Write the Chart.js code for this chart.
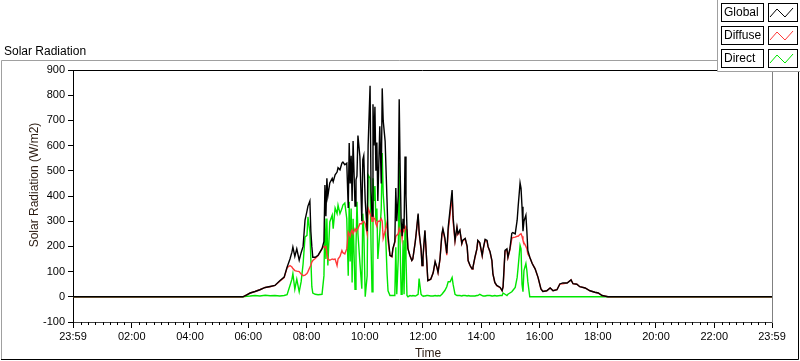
<!DOCTYPE html>
<html>
<head>
<meta charset="utf-8">
<script src="https://cdn.jsdelivr.net/npm/chart.js@4"></script>
<style>
  html, body { margin: 0; padding: 0; background: #fff; }
</style>
</head>
<body>
<canvas id="chart" width="800" height="361"></canvas>
<script>
// minutes from midnight; -1 and 1439 are the two 23:59 ends of the day
const minuteOfDay = [
  -1, 349, 357, 364, 374, 384, 395, 405, 415, 425, 434, 440, 446, 450, 452, 456, 460, 465, 469, 473,
  477, 481, 483, 487, 489, 491, 493, 498, 504, 512, 516, 518, 520, 522, 524, 528, 533, 535, 539, 543,
  545, 549, 553, 555, 559, 563, 566, 568, 570, 572, 574, 576, 580, 582, 584, 586, 590, 594, 596, 598,
  601, 605, 607, 611, 613, 615, 617, 619, 621, 623, 625, 627, 631, 634, 636, 638, 642, 646, 648, 652,
  656, 658, 662, 664, 666, 669, 671, 673, 675, 677, 679, 681, 683, 685, 687, 689, 693, 697, 699, 704,
  706, 710, 712, 716, 718, 720, 724, 728,
  730, 736, 741, 745, 749, 751, 755, 759, 761, 765, 769, 772, 776, 780, 782, 786, 790, 792, 796, 800,
  802, 807, 811, 813, 817, 821, 823, 827, 831, 833, 837, 842, 844, 848, 852, 854, 858, 862, 864, 868,
  872, 879, 883, 885, 889, 893, 895, 899, 903,
  905, 910, 914, 916, 920, 922, 924, 926, 928, 932, 934, 936, 940, 945, 951, 957, 963, 967, 975, 982,
  988, 996, 1002, 1008, 1017, 1025, 1029, 1037, 1043, 1054, 1064, 1074, 1081, 1089, 1101, 1439
];

const globalRad = [
  0, 0, 8, 15, 21, 28, 37, 41, 45, 64, 78, 117, 150, 177, 197, 160, 190, 145, 175, 200,
  304, 340, 360, 380, 260, 200, 157, 157, 165, 191, 220, 444, 320, 470, 400, 452, 470, 457, 484, 495,
  512, 504, 531, 535, 524, 530, 352, 610, 450, 560, 380, 618, 360, 464, 480, 640, 557, 300, 544, 560,
  380, 260, 600, 837, 420, 320, 764, 600, 754, 500, 612, 380, 677, 450, 827, 700, 618, 377, 244, 164,
  160, 191, 220, 432, 300, 400, 784, 500, 300, 240, 310, 270, 557, 400, 271, 191, 164, 144, 150, 217,
  252, 330, 260, 190, 124, 157, 264, 132,
  64, 70, 95, 140, 115, 97, 150, 250, 270, 235, 172, 277, 350, 424, 317, 224, 277, 250, 265, 212,
  225, 232, 200, 144, 124, 111, 118, 157, 190, 224, 215, 164, 190, 228, 224, 200, 180, 144, 92, 57,
  45, 37, 24, 40, 184, 190, 157, 190, 252,
  255, 250, 304, 357, 452, 430, 357, 260, 300, 324, 260, 184, 157, 132, 111, 77, 31, 21, 24, 35,
  24, 28, 51, 55, 55, 67, 52, 50, 40, 35, 24, 18, 15, 5, 0, 0
];

const diffuseRad = [
  0, 0, 8, 15, 21, 28, 37, 40, 45, 62, 76, 115, 124, 118, 112, 104, 102, 100, 90, 84,
  86, 92, 100, 117, 125, 138, 144, 152, 164, 191, 200, 195, 200, 170, 150, 145, 150, 148, 150, 124,
  150, 160, 184, 175, 170, 191, 257, 250, 240, 257, 265, 250, 270, 262, 265, 271, 290, 290, 300, 300,
  290, 250, 352, 330, 320, 300, 330, 310, 310, 290, 280, 300, 300, 310, 300, 232, 260, 297, 220, 164,
  158, 190, 215, 240, 244, 250, 271, 260, 265, 230, 270, 260, 280, 270, 265, 191, 164, 144, 150, 217,
  250, 324, 250, 190, 124, 150, 260, 130,
  64, 70, 95, 138, 114, 96, 148, 246, 265, 228, 165, 262, 330, 400, 300, 220, 274, 248, 262, 210,
  222, 230, 198, 143, 123, 110, 117, 155, 188, 222, 212, 162, 188, 225, 220, 198, 178, 143, 91, 56,
  44, 36, 24, 38, 180, 185, 155, 185, 231,
  235, 237, 240, 240, 248, 250, 240, 224, 215, 200, 191, 170, 157, 132, 111, 77, 31, 21, 24, 35,
  24, 28, 51, 52, 55, 67, 52, 50, 40, 35, 24, 18, 15, 5, 0, 0
];

const directRad = [
  0, 0, 2, 3, 5, 3, 6, 4, 5, 3, 5, 8, 45, 70, 92, 30, 70, 20, 60, 130,
  237, 244, 317, 257, 150, 40, 15, 10, 8, 10, 84, 311, 150, 311, 124, 297, 324, 270, 352, 330,
  364, 330, 350, 364, 372, 310, 84, 377, 140, 350, 57, 310, 30, 200, 377, 250, 137, 32, 330, 270,
  0, 84, 484, 470, 200, 20, 470, 380, 440, 300, 350, 150, 252, 350, 571, 411, 300, 92, 24, 5,
  5, 5, 5, 197, 10, 150, 531, 200, 10, 10, 224, 10, 277, 150, 5, 0, 5, 3, 5, 3,
  5, 10, 72, 10, 5, 3, 3, 5,
  5, 3, 3, 5, 3, 5, 3, 10, 15, 25, 40, 60, 60, 77, 50, 10, 5, 5, 5, 3,
  5, 5, 3, 5, 3, 3, 3, 3, 5, 5, 10, 5, 3, 3, 5, 5, 5, 3, 3, 5,
  3, 5, 5, 15, 10, 5, 10, 15, 20,
  25, 37, 77, 117, 204, 190, 50, 20, 104, 132, 104, 60, 0, 0, 0, 0, 0, 0, 0, 0,
  0, 0, 0, 0, 0, 0, 0, 0, 0, 0, 0, 0, 0, 0, 0, 0
];

const seriesNames = ['Global', 'Diffuse', 'Direct'];
const seriesColors = ['#000000', '#ff3838', '#00e600'];
const yTickValues = [-100, 0, 100, 200, 300, 400, 500, 600, 700, 800, 900];
const xTickMinutes = [-1, 120, 240, 360, 480, 600, 720, 840, 960, 1080, 1200, 1320, 1439];

const FONT = '"Liberation Sans", Arial, sans-serif';

function timeLabel(v) {
  if (v < 0 || v >= 1439) return '23:59';
  const h = Math.floor(v / 60), m = v % 60;
  return String(h).padStart(2, '0') + ':' + String(m).padStart(2, '0');
}

const seriesValues = [globalRad, diffuseRad, directRad];

const frame = {
  id: 'frame',
  beforeDraw(chart) {
    const c = chart.ctx;
    c.save();
    c.fillStyle = '#fff';
    c.fillRect(0, 0, chart.width, chart.height);
    c.restore();
  },
  afterDraw(chart) {
    const c = chart.ctx;
    const a = chart.chartArea;
    const xs = chart.scales.x;
    c.save();
    c.lineWidth = 1;

    // minor ticks every 15 minutes
    c.strokeStyle = '#000';
    c.beginPath();
    for (let m = 15; m < 1439; m += 15) {
      if (m % 120 === 0) continue;
      const px = Math.round(xs.getPixelForValue(m)) + 0.5;
      c.moveTo(px, a.bottom);
      c.lineTo(px, a.bottom + 3);
    }
    c.stroke();

    // plot area top / right edges
    c.beginPath();
    c.moveTo(a.left, a.top + 0.5);
    c.lineTo(a.right, a.top + 0.5);
    c.stroke();
    c.strokeStyle = '#808080';
    c.beginPath();
    c.moveTo(a.right + 0.5, a.top);
    c.lineTo(a.right + 0.5, a.bottom + 1);
    c.stroke();

    // outer panel
    c.strokeStyle = '#a0a0a0';
    c.beginPath();
    c.moveTo(1.5, 359);
    c.lineTo(1.5, 60.5);
    c.lineTo(798, 60.5);
    c.stroke();
    c.strokeStyle = '#000';
    c.beginPath();
    c.moveTo(1, 359.5);
    c.lineTo(798.5, 359.5);
    c.lineTo(798.5, 60);
    c.stroke();

    // texts
    c.fillStyle = '#000';
    c.font = '12px ' + FONT;
    c.textAlign = 'left';
    c.textBaseline = 'alphabetic';
    c.fillText('Solar Radiation', 4, 55);

    c.fillStyle = '#2a1a10';
    c.textAlign = 'center';
    c.fillText('Time', 428, 357);
    c.save();
    c.translate(38, 185);
    c.rotate(-Math.PI / 2);
    c.fillText('Solar Radiation (W/m2)', 0, 0);
    c.restore();

    // legend
    c.fillStyle = '#fff';
    c.fillRect(717, 0, 83, 72);
    c.strokeStyle = '#a0a0a0';
    c.beginPath();
    c.moveTo(717.5, 0);
    c.lineTo(717.5, 71.5);
    c.lineTo(800, 71.5);
    c.stroke();
    const rowTop = [3, 26, 49];
    seriesNames.forEach((name, i) => {
      const y0 = rowTop[i];
      c.strokeStyle = '#000';
      c.strokeRect(721.5, y0 + 0.5, 42, 18);
      c.strokeRect(768.5, y0 + 0.5, 29, 18);
      c.fillStyle = '#000';
      c.textAlign = 'left';
      c.textBaseline = 'middle';
      c.font = '12px ' + FONT;
      c.fillText(name, 724, y0 + 10);
      c.strokeStyle = seriesColors[i];
      c.beginPath();
      c.moveTo(770, y0 + 14);
      c.lineTo(777, y0 + 6);
      c.lineTo(785, y0 + 14);
      c.lineTo(793, y0 + 5);
      c.stroke();
    });
    c.restore();
  }
};

new Chart(document.getElementById('chart').getContext('2d'), {
  type: 'line',
  data: {
    datasets: seriesNames.map((name, i) => ({
      label: name,
      data: seriesValues[i].map((v, k) => ({ x: minuteOfDay[k], y: v })),
      borderColor: seriesColors[i],
      borderWidth: 1.4,
      pointRadius: 0,
      tension: 0,
      fill: false
    }))
  },
  options: {
    responsive: false,
    animation: false,
    layout: { padding: { top: 70, right: 28, left: 0, bottom: 0 } },
    plugins: { legend: { display: false }, tooltip: { enabled: false } },
    scales: {
      x: {
        type: 'linear',
        min: -1,
        max: 1439,
        afterBuildTicks: (s) => { s.ticks = xTickMinutes.map(v => ({ value: v })); },
        afterFit: (s) => { s.height = 39; },
        ticks: {
          callback: (v) => timeLabel(v),
          autoSkip: false,
          maxRotation: 0,
          padding: 2,
          color: '#000',
          font: { family: FONT, size: 11 }
        },
        grid: { drawOnChartArea: false, tickLength: 6, color: '#000' },
        border: { color: '#404040' }
      },
      y: {
        min: -100,
        max: 900,
        afterBuildTicks: (s) => { s.ticks = yTickValues.map(v => ({ value: v })); },
        afterFit: (s) => { s.width = 73; },
        ticks: {
          padding: 3,
          color: '#000',
          font: { family: FONT, size: 11 }
        },
        grid: { drawOnChartArea: false, tickLength: 5, color: '#000' },
        border: { color: '#000' }
      }
    }
  },
  plugins: [frame]
});
</script>
</body>
</html>
